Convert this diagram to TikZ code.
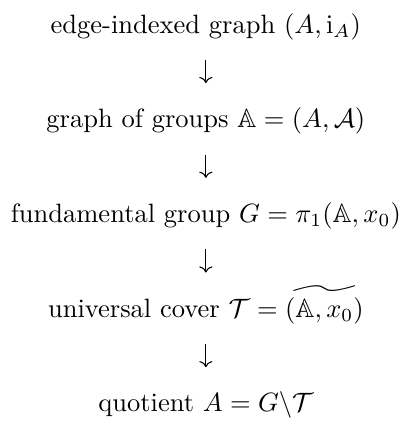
\documentclass[tikz,border=0pt]{standalone}
\usepackage{amsmath,amssymb}
\usetikzlibrary{arrows.meta}
\begin{document}
\begin{tikzpicture}[
  lbl/.style={anchor=base, inner sep=0pt, font=\normalsize},
  arr/.style={line width=0.4pt, -{To[length=2.3pt,width=5pt]}, shorten <=10.1pt, shorten >=16.9pt}
]
\useasboundingbox (0,0) rectangle (151.7pt,-158.9pt);
\node[lbl] (n1) at (77.7pt,-12.5pt) {edge-indexed graph $(A,\mathrm{i}_A)$};
\node[lbl] (n2) at (77.7pt,-48.25pt) {graph of groups $\mathbb{A}=(A,\mathcal{A})$};
\node[lbl] (n3) at (77.7pt,-84pt) {fundamental group $G=\pi_1(\mathbb{A},x_0)$};
\node[lbl] (n4) at (77.7pt,-119.75pt) {universal cover $\mathcal{T}=\widetilde{(\mathbb{A},x_0)}$};
\node[lbl] (n5) at (77.7pt,-155.5pt) {quotient $A=G\backslash\mathcal{T}$};
\draw[arr] (n1.base) -- (n2.base);
\draw[arr] (n2.base) -- (n3.base);
\draw[arr] (n3.base) -- (n4.base);
\draw[arr] (n4.base) -- (n5.base);
\end{tikzpicture}
\end{document}
